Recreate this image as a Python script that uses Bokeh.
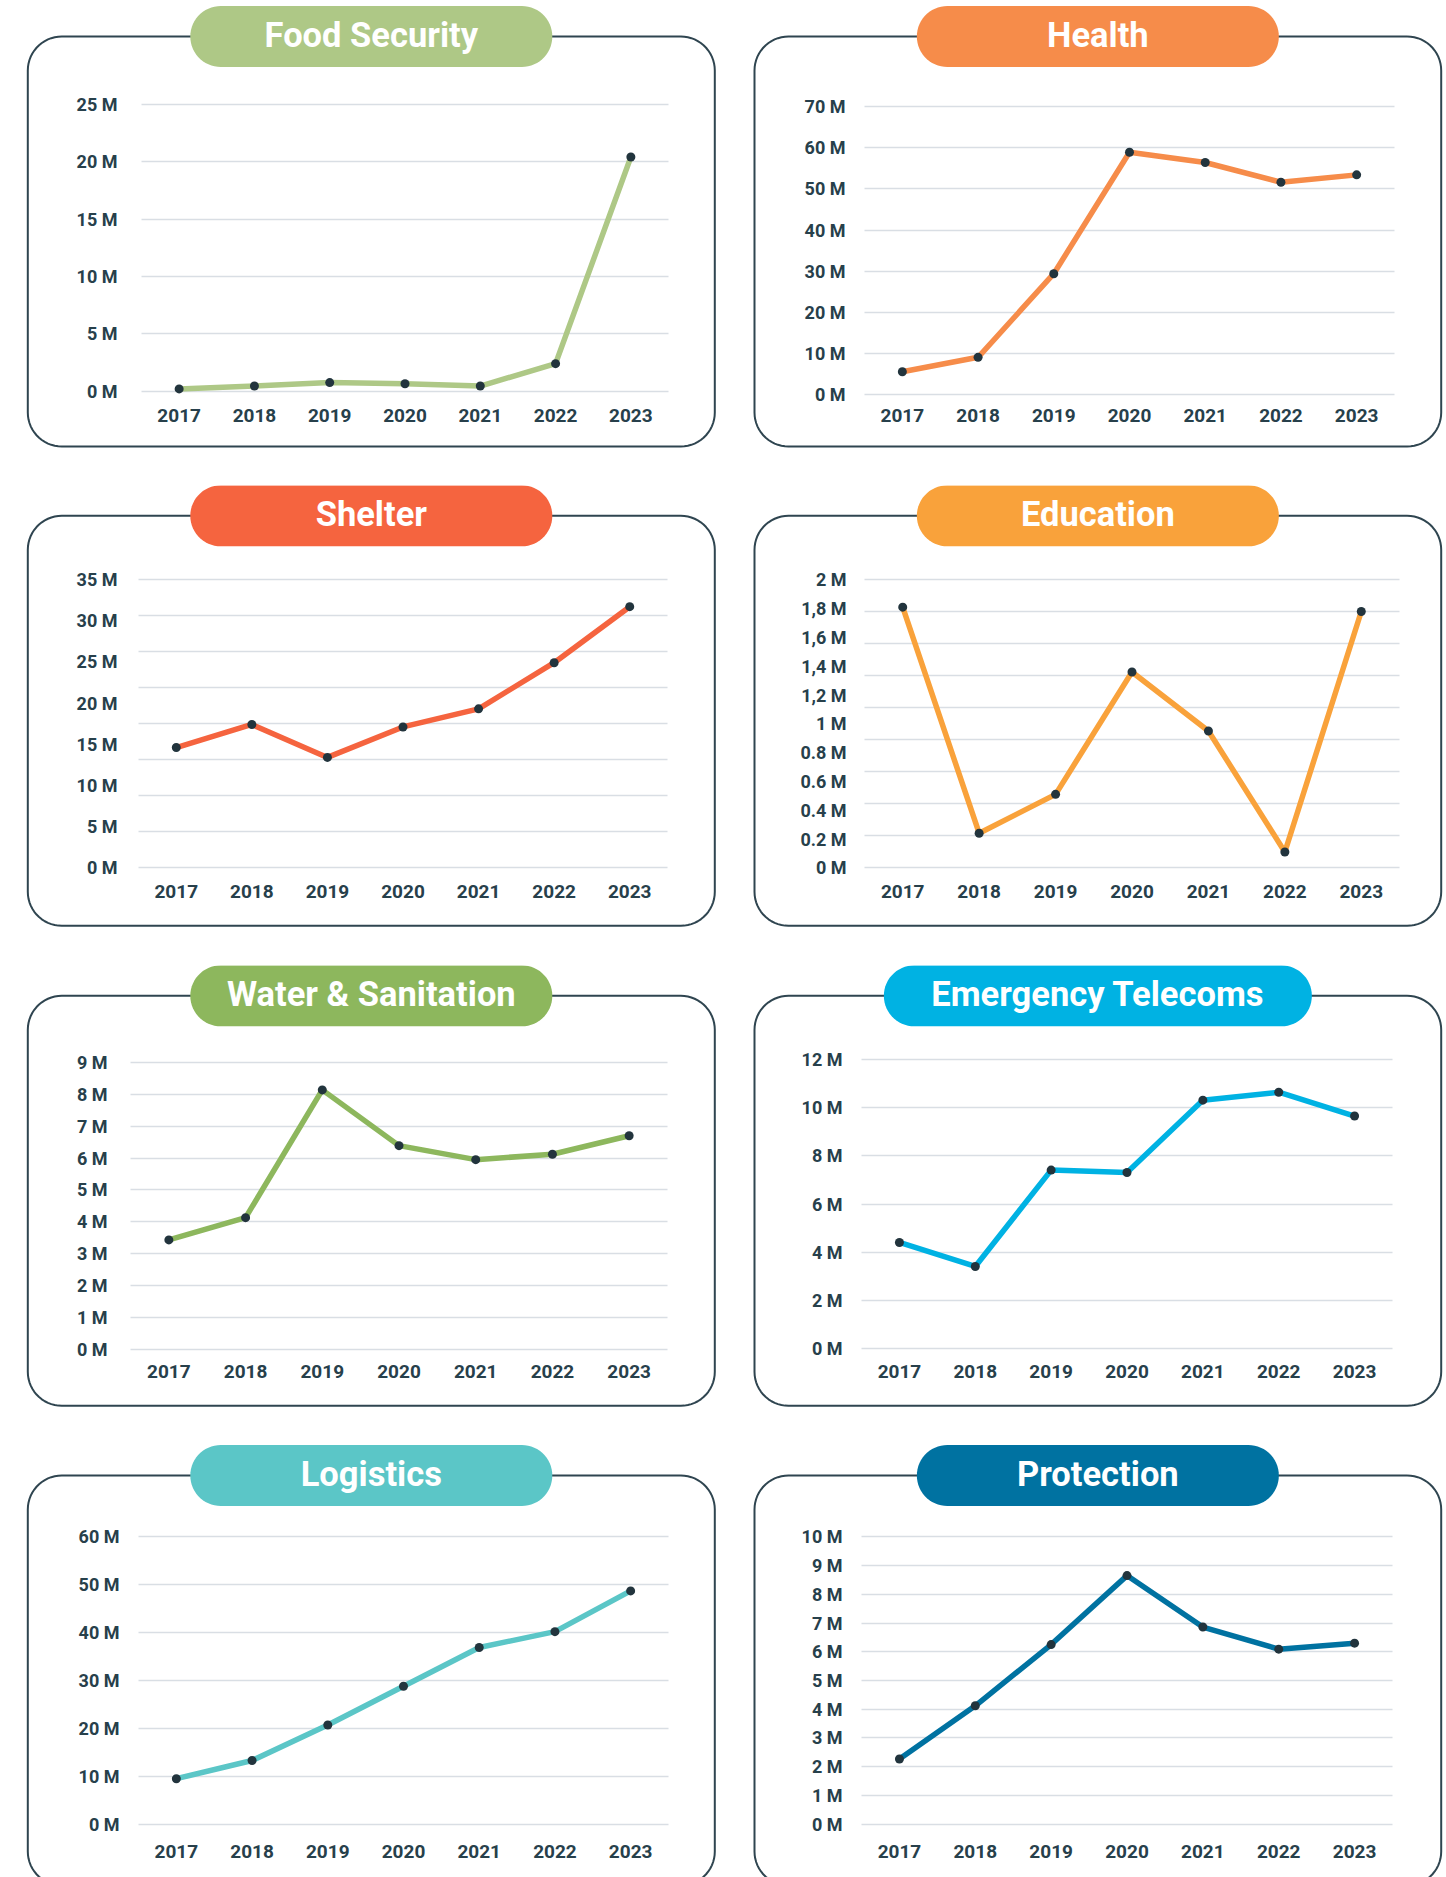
import numpy as np
from bokeh.plotting import figure
from bokeh.models import Range1d, FixedTicker
from bokeh.core.properties import value
from bokeh.layouts import column, row
from bokeh.embed import file_html
from bokeh.resources import INLINE

# ---------------- data ----------------
years = [2017, 2018, 2019, 2020, 2021, 2022, 2023]
year_labels = ["2017", "2018", "2019", "2020", "2021", "2022", "2023"]

titles = ["Food Security", "Health", "Shelter", "Education",
          "Water & Sanitation", "Emergency Telecoms", "Logistics", "Protection"]

# values in millions
food_security = [0.2, 0.45, 0.75, 0.65, 0.45, 2.4, 20.4]
health = [5.6, 9.1, 29.4, 58.9, 56.4, 51.6, 53.4]
shelter = [14.6, 17.4, 13.4, 17.1, 19.3, 24.9, 31.7]
education = [1.81, 0.24, 0.51, 1.36, 0.95, 0.11, 1.78]
water_sanitation = [3.43, 4.13, 8.14, 6.39, 5.95, 6.12, 6.70]
emergency_telecoms = [4.40, 3.40, 7.41, 7.31, 10.32, 10.65, 9.66]
logistics = [9.5, 13.3, 20.7, 28.8, 36.9, 40.2, 48.7]
protection = [2.27, 4.12, 6.25, 8.65, 6.86, 6.09, 6.30]

food_ticks = [0, 5, 10, 15, 20, 25]
food_tick_labels = ["0 M", "5 M", "10 M", "15 M", "20 M", "25 M"]
health_ticks = [0, 10, 20, 30, 40, 50, 60, 70]
health_tick_labels = ["0 M", "10 M", "20 M", "30 M", "40 M", "50 M", "60 M", "70 M"]
shelter_ticks = [0, 5, 10, 15, 20, 25, 30, 35]
shelter_tick_labels = ["0 M", "5 M", "10 M", "15 M", "20 M", "25 M", "30 M", "35 M"]
education_ticks = [0, 0.2, 0.4, 0.6, 0.8, 1, 1.2, 1.4, 1.6, 1.8, 2]
education_tick_labels = ["0 M", "0.2 M", "0.4 M", "0.6 M", "0.8 M", "1 M",
                         "1,2 M", "1,4 M", "1,6 M", "1,8 M", "2 M"]
water_ticks = [0, 1, 2, 3, 4, 5, 6, 7, 8, 9]
water_tick_labels = ["0 M", "1 M", "2 M", "3 M", "4 M", "5 M", "6 M", "7 M", "8 M", "9 M"]
emergency_ticks = [0, 2, 4, 6, 8, 10, 12]
emergency_tick_labels = ["0 M", "2 M", "4 M", "6 M", "8 M", "10 M", "12 M"]
logistics_ticks = [0, 10, 20, 30, 40, 50, 60]
logistics_tick_labels = ["0 M", "10 M", "20 M", "30 M", "40 M", "50 M", "60 M"]
protection_ticks = [0, 1, 2, 3, 4, 5, 6, 7, 8, 9, 10]
protection_tick_labels = ["0 M", "1 M", "2 M", "3 M", "4 M", "5 M", "6 M", "7 M", "8 M", "9 M", "10 M"]

# ---------------- styles / layout ----------------
colors = ["#aec886", "#f68c4a", "#f5643f", "#f9a23b",
          "#8db75d", "#00b2e3", "#5bc6c7", "#0072a1"]
series = [food_security, health, shelter, education,
          water_sanitation, emergency_telecoms, logistics, protection]
tick_sets = [food_ticks, health_ticks, shelter_ticks, education_ticks,
             water_ticks, emergency_ticks, logistics_ticks, protection_ticks]
label_sets = [food_tick_labels, health_tick_labels, shelter_tick_labels, education_tick_labels,
              water_tick_labels, emergency_tick_labels, logistics_tick_labels, protection_tick_labels]
grid_counts = [6, 8, 9, 10, 10, 7, 7, 11]

CELL_W = 723
ROW_H = [485, 480, 479, 433]
# plot area px (left, right, top, bottom), y label standoff, x label standoff, box top
geom = [
    (141, 668, 103.7, 390.7, 24, 18, 36.0),
    (141, 671, 106.0, 394.3, 19, 14, 36.0),
    (138, 667, 94.0, 382.3, 21, 17, 30.3),
    (141, 676, 94.3, 382.3, 18, 17, 30.3),
    (130, 667, 97.0, 383.7, 23, 16, 30.3),
    (138, 669, 94.3, 382.7, 19, 17, 30.3),
    (138, 668, 92.3, 379.7, 19, 21, 31.0),
    (138, 669, 92.3, 379.7, 19, 21, 31.0),
]
pill_widths = [362, 362, 362, 362, 362, 428, 362, 362]
BOX_X = {0: (27.3, 714.3), 1: (31.0, 717.7)}
BOX_H = 410
BOX_R = 34
PILL_H = 61
DARK = "#27404b"
BOX_LINE = "#2f4550"
DOT = "#22343d"
GRID = "#d9dee4"


def rounded_rect_px(l, t, r, b, rad, n=16):
    """Outline of a rounded rectangle in pixel space (y down)."""
    pts = []
    corners = [(r - rad, t + rad, -90, 0), (r - rad, b - rad, 0, 90),
               (l + rad, b - rad, 90, 180), (l + rad, t + rad, 180, 270)]
    for cx, cy, a0, a1 in corners:
        a = np.radians(np.linspace(a0, a1, n))
        pts.extend(zip(cx + rad * np.cos(a), cy + rad * np.sin(a)))
    pts.append(pts[0])
    return pts


def make_panel(i):
    side = i % 2
    r = i // 2
    W = CELL_W
    H = ROW_H[r]
    fl, fr, ft, fb, ystand, xstand, box_t = geom[i]
    ticks = tick_sets[i]
    ymax = ticks[-1]
    xpp = 7.0 / (fr - fl)
    ypp = ymax / (fb - ft)
    x_start = 2016.5 - fl * xpp
    x_end = 2023.5 + (W - fr) * xpp
    y_start = -(H - fb) * ypp
    y_end = ymax + ft * ypp

    p = figure(width=W, height=H, output_backend="svg", toolbar_location=None,
               x_range=Range1d(x_start, x_end), y_range=Range1d(y_start, y_end),
               min_border=0, min_border_left=0, min_border_right=0,
               min_border_top=0, min_border_bottom=0)
    p.title.visible = False
    p.outline_line_color = None
    p.background_fill_color = "white"
    p.border_fill_color = "white"

    def dx(px):
        return x_start + px * xpp

    def dy(py):
        return (fb - py) * ypp

    # axes, placed at the edges of the plot area
    p.xaxis.ticker = FixedTicker(ticks=years)
    p.xaxis.major_label_overrides = dict(zip(years, year_labels))
    p.xaxis.fixed_location = 0
    p.yaxis.ticker = FixedTicker(ticks=ticks)
    p.yaxis.major_label_overrides = dict(zip(ticks, label_sets[i]))
    p.yaxis.fixed_location = 2016.5
    for ax in (p.xaxis[0], p.yaxis[0]):
        ax.axis_line_color = None
        ax.major_tick_line_color = None
        ax.minor_tick_line_color = None
        ax.major_tick_out = 0
        ax.major_tick_in = 0
        ax.major_label_text_font = "Roboto"
        ax.major_label_text_font_style = "bold"
        ax.major_label_text_color = DARK
    p.xaxis.major_label_text_font_size = "19px"
    p.yaxis.major_label_text_font_size = "18px"
    p.xaxis.major_label_standoff = xstand
    p.yaxis.major_label_standoff = ystand

    # horizontal grid lines limited to the plot area
    p.xgrid.visible = False
    grid_vals = [float(v) for v in np.linspace(0, ymax, grid_counts[i])]
    g = p.ygrid[0]
    if "cross_bounds" in g.properties():
        g.ticker = FixedTicker(ticks=grid_vals)
        g.cross_bounds = (2016.5, 2023.5)
        g.grid_line_color = GRID
        g.grid_line_width = 1.5
    else:
        g.visible = False
        p.segment(x0=[2016.5] * len(grid_vals), x1=[2023.5] * len(grid_vals),
                  y0=grid_vals, y1=grid_vals, line_color=GRID, line_width=1.5)

    # decorative rounded box and title pill
    bl, br = BOX_X[side]
    cx = (bl + br) / 2
    box_pts = rounded_rect_px(bl, box_t, br, box_t + BOX_H, BOX_R)
    p.line([dx(a) for a, _ in box_pts], [dy(b) for _, b in box_pts],
           line_color=BOX_LINE, line_width=2)
    pw = pill_widths[i]
    pill_pts = rounded_rect_px(cx - pw / 2, box_t - PILL_H / 2, cx + pw / 2,
                               box_t + PILL_H / 2, PILL_H / 2)
    p.patch([dx(a) for a, _ in pill_pts], [dy(b) for _, b in pill_pts],
            fill_color=colors[i], line_color=None)
    p.text(x=[dx(cx)], y=[dy(box_t - 2)], text=[titles[i]], text_align="center",
           text_baseline="middle", text_color="white", text_font=value("Roboto"),
           text_font_style="bold", text_font_size="34.5px")

    # data
    p.line(years, series[i], line_color=colors[i], line_width=5.5, line_join="round", line_cap="round")
    p.scatter(years, series[i], size=9, fill_color=DOT, line_color=None)
    return p


panels = [make_panel(i) for i in range(8)]
layout = column(*[row(panels[2 * r], panels[2 * r + 1], spacing=0) for r in range(4)], spacing=0)

open("out.html", "w").write(file_html(layout, INLINE, title="Funding by cluster"))
